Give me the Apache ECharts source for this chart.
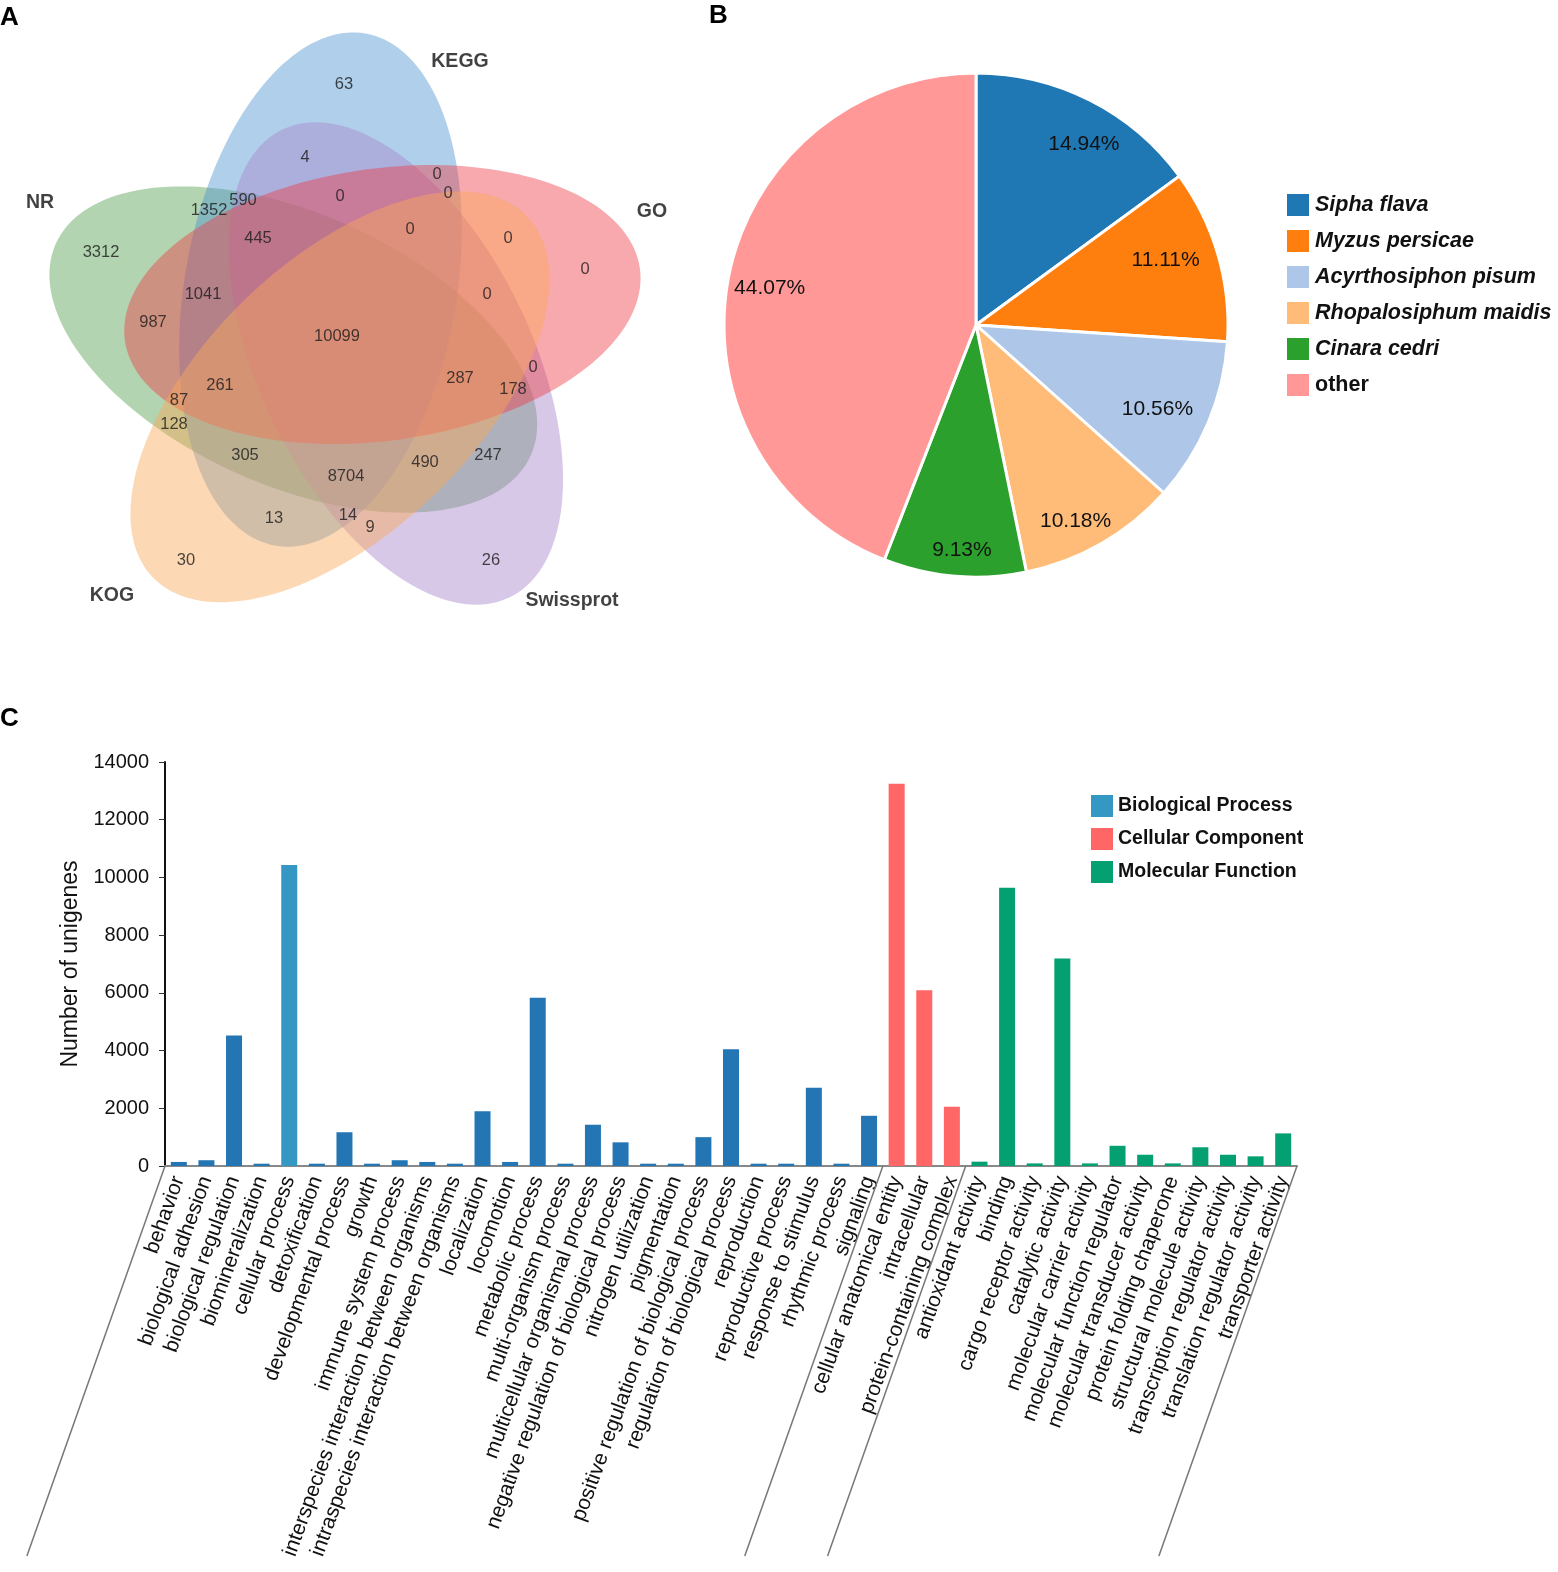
<!DOCTYPE html>
<html><head><meta charset="utf-8">
<script src="https://cdn.jsdelivr.net/npm/echarts@6/dist/echarts.min.js"></script>
<style>html,body{margin:0;padding:0;background:#fff;}#c{width:1558px;height:1572px;}</style>
</head><body><div id="c"></div>
<script>
// ---------- DATA ----------
// Panel A: Venn region counts
const vennSetNames = ['NR', 'KEGG', 'GO', 'KOG', 'Swissprot'];
const vennCounts = [63, 4, 0, 0, 1352, 590, 0, 0, 0, 445, 0, 3312, 1041, 0, 987, 10099, 0, 287, 178, 261, 87, 128, 305, 247, 490, 8704, 13, 14, 9, 30, 26];
// Panel B: species share (%)
const speciesNames = ['Sipha flava', 'Myzus persicae', 'Acyrthosiphon pisum', 'Rhopalosiphum maidis', 'Cinara cedri', 'other'];
const speciesShare = [14.94, 11.11, 10.56, 10.18, 9.13, 44.07];
// Panel C: GO classification
const groupNames = ['Biological Process', 'Cellular Component', 'Molecular Function'];
const bpCats = ['behavior', 'biological adhesion', 'biological regulation', 'biomineralization', 'cellular process', 'detoxification', 'developmental process', 'growth', 'immune system process', 'interspecies interaction between organisms', 'intraspecies interaction between organisms', 'localization', 'locomotion', 'metabolic process', 'multi-organism process', 'multicellular organismal process', 'negative regulation of biological process', 'nitrogen utilization', 'pigmentation', 'positive regulation of biological process', 'regulation of biological process', 'reproduction', 'reproductive process', 'response to stimulus', 'rhythmic process', 'signaling'];
const bpVals = [140, 200, 4520, 80, 10430, 80, 1170, 80, 200, 140, 80, 1900, 140, 5830, 80, 1430, 820, 80, 80, 1000, 4050, 80, 80, 2710, 80, 1740];
const ccCats = ['cellular anatomical entity', 'intracellular', 'protein-containing complex'];
const ccVals = [13250, 6090, 2050];
const mfCats = ['antioxidant activity', 'binding', 'cargo receptor activity', 'catalytic activity', 'molecular carrier activity', 'molecular function regulator', 'molecular transducer activity', 'protein folding chaperone', 'structural molecule activity', 'transcription regulator activity', 'translation regulator activity', 'transporter activity'];
const mfVals = [150, 9640, 90, 7190, 90, 700, 390, 90, 650, 390, 335, 1130];
const yTicks = { min: 0, max: 14000, interval: 2000 };

// ---------- LAYOUT (positions / styles) ----------
const FONT = 'Liberation Sans, Arial, Helvetica, sans-serif';
const vennLabelPos = [[344,84],[305,157],[437,174],[448,193],[209,210],[243,200],[340,196],[508,238],[585,269],[258,238],[410,229],[101,252],[203,294],[487,294],[153,322],[337,336],[533,367],[460,378],[513,389],[220,385],[179,400],[174,424],[245,455],[488,455],[425,462],[346,476],[274,518],[348,515],[370,527],[186,560],[491,560]];
const vennSetLabelPos = [[40,203],[460,62],[652,212],[112,596],[572,601]];
// ellipse layout: order of drawing
const VC = [346, 340], VR = 53, VA = 260, VB = 136;
const vennShapes = [
  { set: 'NR', phi: 174, rot: 24, dx: 0, dy: 4, color: 'rgba(86,159,79,0.45)' },
  { set: 'KEGG', phi: -114, rot: 100, dx: -4, dy: -2, color: 'rgba(79,148,208,0.45)' },
  { set: 'Swissprot', phi: 30, rot: 64, dx: 4, dy: -3, color: 'rgba(168,133,204,0.45)' },
  { set: 'GO', phi: -42, rot: 172, dx: -3, dy: 0, color: 'rgba(237,64,73,0.45)' },
  { set: 'KOG', phi: 102, rot: 136, dx: 5, dy: 5, color: 'rgba(251,168,88,0.45)' }
];
const pieColors = ['#1f77b4', '#ff7f0e', '#aec7e8', '#ffbb78', '#2ca02c', '#ff9896'];
const pieLabelNudge = [[6, 4], [-7, -3], [-7, 1], [-3, 6], [2, 7], [1, 1]];
const BP_DARK = '#2375b4', BP_LIGHT = '#3497c4', CC_COL = '#ff6666', MF_COL = '#05a072';

const allCats = bpCats.concat(ccCats, mfCats);
const nBP = bpCats.length, nCC = ccCats.length;

const chart = echarts.init(document.getElementById('c'), null, { renderer: 'canvas' });

function ellipseItem(params, api) {
  const e = vennShapes[params.dataIndex];
  const cx = VC[0] + VR * Math.cos(e.phi * Math.PI / 180) + e.dx;
  const cy = VC[1] + VR * Math.sin(e.phi * Math.PI / 180) + e.dy;
  const th = e.rot * Math.PI / 180;
  const pts = [];
  for (let k = 0; k < 180; k++) {
    const t = k / 180 * 2 * Math.PI;
    const x = cx + VA * Math.cos(t) * Math.cos(th) - VB * Math.sin(t) * Math.sin(th);
    const y = cy + VA * Math.cos(t) * Math.sin(th) + VB * Math.sin(t) * Math.cos(th);
    pts.push(api.coord([x, y]));
  }
  return { type: 'polygon', shape: { points: pts }, style: { fill: e.color, stroke: null } };
}

const option = {
  animation: false,
  backgroundColor: '#fff',
  textStyle: { fontFamily: FONT },
  grid: [
    { left: 0, top: 0, width: 660, height: 640 },
    { left: 165, top: 762, width: 1132, height: 404 }
  ],
  xAxis: [
    { gridIndex: 0, type: 'value', min: 0, max: 660, show: false },
    {
      gridIndex: 1, type: 'category', data: allCats,
      axisLine: { lineStyle: { color: '#888', width: 2 } },
      axisTick: { show: false },
      axisLabel: { interval: 0, rotate: 70, fontSize: 21, color: '#111', margin: 11, fontFamily: FONT }
    }
  ],
  yAxis: [
    { gridIndex: 0, type: 'value', min: 0, max: 640, inverse: true, show: false },
    {
      gridIndex: 1, type: 'value', min: yTicks.min, max: yTicks.max, interval: yTicks.interval,
      name: 'Number of unigenes', nameLocation: 'middle', nameGap: 81, nameRotate: 90,
      nameTextStyle: { fontSize: 23, color: '#111', fontFamily: FONT },
      axisLine: { show: true, lineStyle: { color: '#111', width: 2 } },
      axisTick: { show: true, length: 6, lineStyle: { color: '#333', width: 1 } },
      splitLine: { show: false },
      axisLabel: { fontSize: 20, color: '#111', margin: 16, fontFamily: FONT, formatter: v => String(v) }
    }
  ],
  legend: [
    {
      data: speciesNames, orient: 'vertical', left: 1280, top: 187,
      itemWidth: 24, itemHeight: 24, itemGap: 10, icon: 'rect', selectedMode: false,
      formatter: n => n === 'other' ? '{o|' + n + '}' : '{i|' + n + '}',
      textStyle: {
        fontSize: 21.5, color: '#111', fontFamily: FONT,
        rich: {
          i: { fontSize: 21.5, fontWeight: 'bold', fontStyle: 'italic', color: '#111', fontFamily: FONT },
          o: { fontSize: 21.5, fontWeight: 'bold', color: '#111', fontFamily: FONT }
        }
      }
    },
    {
      data: [
        { name: groupNames[0], itemStyle: { color: BP_LIGHT } },
        { name: groupNames[1], itemStyle: { color: CC_COL } },
        { name: groupNames[2], itemStyle: { color: MF_COL } }
      ],
      orient: 'vertical', left: 1086, top: 790,
      itemWidth: 22, itemHeight: 22, itemGap: 11, icon: 'rect', selectedMode: false,
      textStyle: { fontSize: 19.5, fontWeight: 'bold', color: '#111', fontFamily: FONT }
    }
  ],
  series: [
    {
      type: 'custom', xAxisIndex: 0, yAxisIndex: 0, silent: true, clip: false,
      data: vennShapes.map((e, i) => [i, 0]),
      renderItem: ellipseItem, z: 1
    },
    {
      type: 'scatter', xAxisIndex: 0, yAxisIndex: 0, silent: true, symbolSize: 0, z: 5,
      data: vennCounts.map((v, i) => [vennLabelPos[i][0], vennLabelPos[i][1], v]),
      label: { show: true, position: 'inside', formatter: p => String(p.value[2]), fontSize: 16.5, color: '#1a1a1a', fontFamily: FONT }
    },
    {
      type: 'scatter', xAxisIndex: 0, yAxisIndex: 0, silent: true, symbolSize: 0, z: 5,
      data: vennSetNames.map((n, i) => ({ name: n, value: [vennSetLabelPos[i][0], vennSetLabelPos[i][1]] })),
      label: { show: true, position: 'inside', formatter: p => p.name, fontSize: 19.5, fontWeight: 'bold', color: '#111', fontFamily: FONT }
    },
    {
      type: 'pie', center: [976, 325], radius: 252, startAngle: 90, clockwise: true, silent: true,
      data: speciesNames.map((n, i) => ({ name: n, value: speciesShare[i], itemStyle: { color: pieColors[i] } })),
      itemStyle: { borderColor: '#fff', borderWidth: 3 },
      label: { show: false }, labelLine: { show: false }
    },
    {
      type: 'pie', center: [976, 325], radius: [166, 252], startAngle: 90, clockwise: true, silent: true,
      data: speciesNames.map((n, i) => ({ name: 'lbl' + i, value: speciesShare[i] })),
      itemStyle: { color: 'rgba(0,0,0,0)', borderWidth: 0 },
      label: { show: true, position: 'inside', formatter: p => p.value.toFixed(2) + '%', fontSize: 21, color: '#111', fontFamily: FONT },
      labelLayout: p => ({ dx: pieLabelNudge[p.dataIndex][0], dy: pieLabelNudge[p.dataIndex][1] }),
      labelLine: { show: false }, z: 6
    },
    {
      name: groupNames[0], type: 'bar', xAxisIndex: 1, yAxisIndex: 1, stack: 'go', barWidth: 16, silent: true,
      color: BP_LIGHT,
      data: allCats.map((c, i) => i < nBP ? { value: bpVals[i], itemStyle: { color: c === 'cellular process' ? BP_LIGHT : BP_DARK } } : null)
    },
    {
      name: groupNames[1], type: 'bar', xAxisIndex: 1, yAxisIndex: 1, stack: 'go', barWidth: 16, silent: true,
      color: CC_COL, itemStyle: { color: CC_COL },
      data: allCats.map((c, i) => (i >= nBP && i < nBP + nCC) ? ccVals[i - nBP] : null)
    },
    {
      name: groupNames[2], type: 'bar', xAxisIndex: 1, yAxisIndex: 1, stack: 'go', barWidth: 16, silent: true,
      color: MF_COL, itemStyle: { color: MF_COL },
      data: allCats.map((c, i) => i >= nBP + nCC ? mfVals[i - nBP - nCC] : null)
    }
  ],
  graphic: [
    { id: 'lA', type: 'text', left: 0, top: 5, style: { text: 'A', font: 'bold 26px ' + FONT, fill: '#000' } },
    { id: 'lB', type: 'text', left: 709, top: 3, style: { text: 'B', font: 'bold 26px ' + FONT, fill: '#000' } },
    { id: 'lC', type: 'text', left: 0, top: 706, style: { text: 'C', font: 'bold 26px ' + FONT, fill: '#000' } }
  ]
};
chart.setOption(option);

// group separator lines below the category axis, positioned through the axis scale
const x0 = chart.convertToPixel({ xAxisIndex: 1 }, allCats[0]);
const x1 = chart.convertToPixel({ xAxisIndex: 1 }, allCats[1]);
const step = x1 - x0;
const yBase = chart.convertToPixel({ yAxisIndex: 1 }, 0);
const bounds = [-0.5, nBP - 0.5, nBP + nCC - 0.5, allCats.length - 0.5];
const lineLen = 1556 - yBase;
const slant = lineLen / Math.tan(70.5 * Math.PI / 180);
chart.setOption({
  graphic: bounds.map((b, k) => {
    const x = x0 + b * step;
    return { id: 'sep' + k, type: 'line', shape: { x1: x, y1: yBase, x2: x - slant, y2: yBase + lineLen }, style: { stroke: '#777', lineWidth: 1.5 }, z: 10 };
  })
});
</script></body></html>
